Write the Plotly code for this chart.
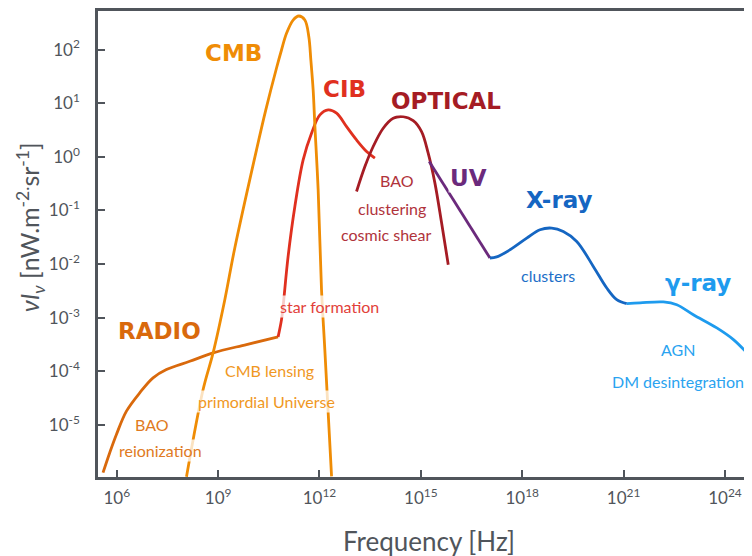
import plotly.graph_objects as go

# frequency [Hz] and nu*I_nu [nW m^-2 sr^-1]
radio_freq = [3.93e5, 6.21e5, 9.80e5, 1.94e6, 4.80e6, 1.19e7, 2.96e7, 1.45e8, 7.11e8, 6.93e9, 5.97e10]
radio_flux = [1.29e-6, 3.04e-6, 6.65e-6, 1.81e-5, 3.98e-5, 7.57e-5, 1.08e-4, 1.54e-4, 2.21e-4, 3.16e-4, 4.39e-4]

cmb_freq = [1.16e8, 3.60e8, 7.11e8, 1.58e9, 3.12e9, 1.37e10, 2.58e10, 5.36e10, 7.53e10,
            1.06e11, 1.66e11, 2.45e11, 3.69e11, 4.84e11, 5.56e11, 6.50e11, 7.29e11, 9.14e11,
            1.15e12, 1.44e12, 2.28e12]
cmb_flux = [1.08e-6, 4.58e-5, 2.21e-4, 2.17e-3, 2.00e-2, 1.35, 7.50, 45.4, 98.4,
            201, 356, 423, 356, 174, 64.0, 17.7, 3.94, 0.243,
            3.33e-3, 2.55e-4, 1.10e-6]

cib_freq = [5.97e10, 7.53e10, 8.39e10, 1.18e11, 1.87e11, 3.29e11, 5.82e11, 1.03e12, 1.81e12,
            3.21e12, 6.34e12, 1.25e13, 2.48e13, 4.37e13]
cib_flux = [4.39e-4, 9.23e-4, 1.63e-3, 1.39e-2, 0.119, 0.879, 2.76, 6.05, 7.50,
            6.52, 3.66, 2.07, 1.26, 0.946]

optical_freq = [1.25e13, 2.21e13, 3.89e13, 7.69e13, 1.52e14, 3.01e14, 5.94e14, 1.05e15,
                1.65e15, 2.61e15, 4.12e15, 6.47e15]
optical_flux = [0.226, 0.659, 1.56, 3.42, 5.26, 5.62, 4.74, 2.96,
                1.17, 0.324, 5.82e-2, 9.75e-3]

uv_freq = [1.77e15, 1.11e17]
uv_flux = [0.817, 1.30e-2]

xray_freq = [1.11e17, 1.75e17, 4.35e17, 1.36e18, 3.36e18, 7.45e18, 1.64e19, 4.10e19,
             1.27e20, 3.17e20, 6.27e20, 1.24e21]
xray_flux = [1.30e-2, 1.36e-2, 1.85e-2, 3.06e-2, 4.38e-2, 4.70e-2, 4.06e-2, 2.65e-2,
             9.06e-3, 3.59e-3, 2.17e-3, 1.83e-3]

gamma_freq = [1.24e21, 3.07e21, 1.50e22, 3.75e22, 1.16e23, 5.73e23, 1.78e24, 5.55e24]
gamma_flux = [1.83e-3, 1.89e-3, 1.97e-3, 1.75e-3, 1.14e-3, 6.46e-4, 3.91e-4, 1.91e-4]

x_ticks = [1e6, 1e9, 1e12, 1e15, 1e18, 1e21, 1e24]
x_ticktext = ["10<sup>6</sup>", "10<sup>9</sup>", "10<sup>12</sup>", "10<sup>15</sup>",
              "10<sup>18</sup>", "10<sup>21</sup>", "10<sup>24</sup>"]
y_ticks = [1e-5, 1e-4, 1e-3, 1e-2, 1e-1, 1e0, 1e1, 1e2]
y_ticktext = ["10<sup>-5</sup>", "10<sup>-4</sup>", "10<sup>-3</sup>", "10<sup>-2</sup>",
              "10<sup>-1</sup>", "10<sup>0</sup>", "10<sup>1</sup>", "10<sup>2</sup>"]

FONT = "Lato"
BOLD_FONT = "DejaVu Sans"
GREY = "#50555b"

fig = go.Figure()

curves = [
    (radio_freq, radio_flux, "#d9690c", "spline"),
    (cib_freq, cib_flux, "#e0301f", "spline"),
    (cmb_freq, cmb_flux, "#ef8c05", "spline"),
    (optical_freq, optical_flux, "#a51c24", "spline"),
    (uv_freq, uv_flux, "#6b2a7c", "linear"),
    (xray_freq, xray_flux, "#1566c2", "spline"),
    (gamma_freq, gamma_flux, "#1e9bee", "spline"),
]
for fx, fy, col, shape in curves:
    fig.add_trace(go.Scatter(x=fx, y=fy, mode="lines",
                             line=dict(color=col, width=2.8, shape=shape, smoothing=1.0),
                             showlegend=False, hoverinfo="skip"))

# (text, log10 x, log10 y, colour, bold)
labels = [
    ("CMB", 9.465, 1.942, "#ef8c05", True),
    ("CIB", 12.751, 1.261, "#e0301f", True),
    ("OPTICAL", 15.757, 1.043, "#a51c24", True),
    ("UV", 16.403, -0.397, "#6b2a7c", True),
    ("X-ray", 19.097, -0.801, "#1566c2", True),
    ("γ-ray", 23.196, -2.352, "#1e9bee", True),
    ("RADIO", 7.273, -3.253, "#d9690c", True),
    ("BAO", 14.283, -0.447, "#b0333b", False),
    ("clustering", 14.134, -0.955, "#b0333b", False),
    ("cosmic shear", 13.966, -1.453, "#b0333b", False),
    ("clusters", 18.754, -2.216, "#1e6fc8", False),
    ("AGN", 22.603, -3.594, "#2aa3f0", False),
    ("DM desintegration", 22.603, -4.184, "#2aa3f0", False),
    ("star formation", 12.307, -2.788, "#e2413a", False),
    ("CMB lensing", 10.531, -3.980, "#f0981f", False),
    ("primordial Universe", 10.433, -4.557, "#f0981f", False),
    ("BAO", 7.057, -4.991, "#e07a22", False),
    ("reionization", 7.303, -5.469, "#e07a22", False),
]
for txt, lx, ly, col, bold in labels:
    if bold:
        f = dict(family=BOLD_FONT, size=23, color=col)
        txt = f"<b>{txt}</b>"
    else:
        f = dict(family=FONT, size=16, color=col)
    fig.add_annotation(x=lx, y=ly, xref="x", yref="y", text=txt,
                       showarrow=False, bgcolor="rgba(255,255,255,0.75)", borderpad=1,
                       font=f)

fig.add_annotation(x=-0.104, y=0.536, xref="paper", yref="paper", textangle=-90,
                   xanchor="center", yanchor="middle",
                   text="<i>νI<sub>ν</sub></i> [nW.m<sup>-2.</sup>sr<sup>-1</sup>]",
                   showarrow=False, font=dict(family=FONT, size=25, color=GREY))
fig.add_annotation(x=0.506, y=-0.138, xref="paper", yref="paper",
                   xanchor="center", yanchor="middle",
                   text="Frequency [Hz]", showarrow=False,
                   font=dict(family=FONT, size=26, color=GREY))

axis_style = dict(type="log", showgrid=False, zeroline=False, showline=True,
                  linecolor=GREY, linewidth=2.5, ticks="inside", ticklen=7,
                  tickwidth=2, tickcolor=GREY,
                  tickfont=dict(family=FONT, size=17, color=GREY))

# page body has an 8px margin, so the figure is shifted; margins compensate
fig.update_layout(
    width=744, height=548,
    margin=dict(l=90, r=0, t=3, b=79),
    plot_bgcolor="white", paper_bgcolor="white",
    xaxis=dict(axis_style, range=[5.446, 24.80], tickvals=x_ticks, ticktext=x_ticktext,
               mirror=True, ticklabelstandoff=4),
    yaxis=dict(axis_style, range=[-5.97, 2.72], tickvals=y_ticks, ticktext=y_ticktext,
               ticklabelstandoff=12),
)

fig.write_html("out.html")
